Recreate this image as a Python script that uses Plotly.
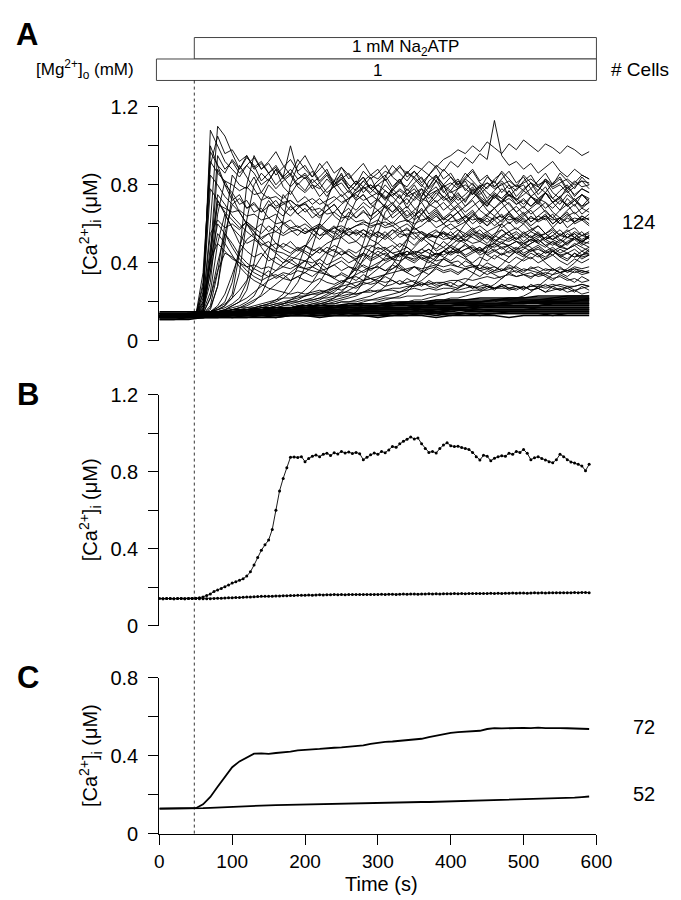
import plotly.graph_objects as go

# ---------------- time bases (s) ----------------
T_A = list(range(0, 600, 10))            # panel A responders, 0..590 s
T_NR = list(range(0, 600, 20)) + [590]   # panel A non-responders
T_B = list(range(0, 595, 5))             # panel B, 0..590 s
T_C = list(range(0, 600, 10))            # panel C, 0..590 s

# ---------------- panel A : responding cells ([Ca2+]i, units of 0.01 uM) ----------------
a01 = [13,13,13,13,13,14,20,108,100,92, 88,84,90,86,80,83,78,82,85,79, 76,80,74,78,82,77,73,76,79,75, 72,77,74,70,75,78,73,71,76,72, 74,70,73,77,72,69,74,71,75,73, 70,74,72,76,71,73,69,72,75,71]
a02 = [13,13,14,13,13,13,18,60,110,105, 96,88,94,90,82,86,80,84,79,83, 85,80,78,83,79,81,76,80,84,78, 80,83,77,81,79,84,80,76,82,79, 81,78,83,80,77,81,79,82,78,80, 77,81,79,83,78,80,76,79,82,78]
a03 = [13,14,13,13,13,13,25,100,90,80, 76,70,72,66,68,63,65,60,62,58, 60,57,59,55,58,56,54,57,55,53, 56,54,57,53,55,52,56,54,53,55, 52,54,51,55,53,50,54,52,51,53, 50,52,54,51,49,52,50,53,51,50]
a04 = [13,13,13,14,13,13,16,45,95,88, 92,86,90,94,88,91,85,89,93,87, 90,84,88,92,86,89,83,87,91,85, 88,82,86,90,84,87,81,85,89,83, 86,80,84,88,82,85,79,83,87,81, 84,78,82,86,80,83,77,81,85,83]
a05 = [13,13,13,13,14,13,15,40,88,80, 72,75,68,70,66,72,67,64,69,65, 68,63,66,70,64,61,66,63,67,62, 65,69,63,66,61,64,68,62,65,60, 63,66,61,65,62,59,64,61,66,62, 60,64,61,63,58,62,65,60,62,59]
a06 = [13,13,13,13,13,14,16,30,65,82, 74,66,60,56,52,55,50,48,51,47, 49,46,48,45,47,44,46,43,45,42, 44,41,43,45,42,40,43,41,39,42, 40,38,41,39,37,40,38,36,39,37, 35,38,36,34,37,35,33,36,34,35]
a07 = [14,13,13,13,13,13,22,78,72,66, 62,58,61,57,60,56,59,55,58,57, 55,58,54,57,56,53,56,55,57,54, 56,53,57,55,54,58,55,53,56,55, 54,57,53,56,55,52,55,57,54,56, 53,56,54,55,52,55,53,56,54,55]
a08 = [13,13,13,13,13,13,15,35,72,65, 58,54,50,52,49,51,47,50,48,46, 49,47,45,48,46,44,47,45,48,46, 44,47,45,43,46,44,47,45,43,46, 44,46,43,45,47,44,42,45,43,46, 44,42,45,43,46,44,42,45,43,44]
a09 = [13,13,14,13,13,13,15,25,50,65, 58,50,46,43,45,41,43,40,42,39, 41,38,40,37,39,41,38,36,39,37, 38,36,39,37,35,38,36,34,37,35, 36,34,37,35,33,36,34,32,35,33, 34,32,35,33,31,34,32,30,33,31]
a10 = [13,13,13,13,13,13,17,40,60,55, 48,42,38,35,33,36,32,34,31,33, 35,38,42,46,49,47,44,41,38,36, 39,43,47,50,48,45,42,40,43,46, 49,52,50,47,44,46,49,51,48,45, 47,50,52,49,46,48,51,53,50,48]
a11 = [13,13,13,13,13,13,14,22,40,55, 50,44,40,37,35,33,34,32,31,33, 31,30,32,30,29,31,30,28,30,29, 30,28,29,31,29,28,30,28,27,29, 28,27,29,28,26,28,27,29,27,26, 28,26,27,29,27,26,28,26,27,28]
a12 = [13,13,13,13,13,13,14,18,35,60, 85,80,78,84,76,82,88,79,75,81, 77,83,79,74,80,86,78,73,79,84, 76,72,78,83,75,80,74,79,85,77, 72,78,82,75,79,73,77,81,74,78, 80,74,77,82,76,73,79,75,78,76]
a13 = [13,13,13,13,13,13,30,97,90,86, 93,88,95,89,92,86,90,84,88,83, 86,81,84,88,80,83,78,82,79,76, 80,77,74,78,75,72,76,73,77,74, 71,75,72,76,73,70,74,71,73,70, 72,69,73,71,68,72,70,73,69,71]
a14 = [13,13,13,13,13,13,14,17,28,50, 75,90,84,78,72,74,69,71,67,70, 66,69,64,67,70,65,68,63,66,64, 67,62,65,68,63,66,61,64,67,62, 65,60,63,66,61,64,62,65,60,63, 66,61,64,62,65,60,63,61,64,62]
a15 = [13,13,13,13,13,13,14,15,16,18, 24,45,80,95,88,92,97,90,85,93, 88,84,91,86,82,89,85,80,87,83, 86,90,84,81,87,83,79,85,82,88, 84,80,86,82,78,84,81,87,83,79, 85,81,77,83,80,86,82,78,84,80]
a16 = [13,13,13,13,13,13,14,15,16,17, 19,22,30,50,72,80,76,73,77,71, 74,70,73,69,72,75,70,67,71,68, 72,69,66,70,73,68,65,69,72,67, 70,66,69,72,67,64,68,71,66,69, 65,68,71,66,63,67,70,65,68,66]
a17 = [13,13,13,13,13,14,14,15,15,16, 17,18,20,23,30,45,62,75,70,65, 62,58,60,56,59,55,58,54,57,55, 53,56,52,55,58,54,51,55,53,56, 52,55,51,54,57,53,50,54,52,55, 51,54,50,53,56,52,49,53,51,54]
a18 = [13,13,13,13,13,13,14,14,15,15, 16,17,18,20,24,32,45,62,80,90, 95,88,82,86,80,84,78,82,76,80, 77,73,78,74,70,76,72,75,71,74, 70,74,69,73,77,71,68,72,75,70, 73,69,72,68,71,74,69,72,68,71]
a19 = [13,13,13,13,13,13,14,14,14,15, 15,16,16,17,18,19,21,24,30,38, 48,56,60,57,55,58,54,56,53,57, 54,52,55,58,53,56,52,55,57,53, 56,52,54,57,53,55,51,54,56,52, 55,53,56,52,54,57,53,55,52,54]
a20 = [13,13,13,13,13,13,13,14,14,14, 15,15,16,17,18,19,20,22,25,30, 38,48,60,72,82,85,80,77,82,78, 75,80,76,73,78,74,71,76,79,73, 77,72,75,79,74,71,76,73,77,72, 75,78,73,76,71,74,77,72,75,73]
a21 = [13,13,13,13,13,13,14,15,17,19, 22,26,31,37,43,48,50,47,45,48, 46,44,47,45,43,46,44,42,45,43, 46,44,42,45,43,41,44,42,45,43, 41,44,42,40,43,41,44,42,40,43, 41,43,40,42,44,41,39,42,40,42]
a22 = [13,13,13,13,13,13,13,14,14,14, 14,15,15,16,16,17,18,19,20,21, 23,26,30,36,44,54,64,72,75,70, 67,70,66,69,64,67,71,65,68,63, 66,69,64,67,62,65,68,63,66,61, 64,67,62,65,60,63,66,61,64,62]
a23 = [13,13,13,13,13,13,13,13,14,14, 14,14,15,15,15,16,16,17,17,18, 19,20,21,23,25,28,33,40,50,62, 74,84,90,86,82,87,83,79,84,80, 77,82,78,75,80,76,73,78,75,72, 77,74,71,76,73,70,75,72,69,73]
a24 = [13,13,13,13,13,13,13,14,14,14, 14,15,15,16,16,17,18,19,21,23, 26,30,36,44,54,64,72,78,82,85, 83,87,85,89,86,90,88,92,89,93, 95,98,96,100,97,102,99,96,101,98, 103,100,97,101,99,96,100,98,95,97]
a25 = [13,13,13,13,13,13,14,14,14,14, 15,15,15,16,16,17,17,18,18,19, 20,21,22,24,26,29,33,38,45,53, 62,70,77,82,86,84,88,85,90,87, 92,89,94,91,96,93,113,95,90,92, 88,91,86,89,92,87,84,88,85,83]
a26 = [13,13,13,13,13,13,13,13,13,14, 14,14,14,15,15,15,16,16,16,17, 17,18,18,19,20,21,22,23,25,27, 30,34,39,45,52,59,65,70,68,71, 67,70,66,69,72,67,64,68,71,66, 69,65,68,71,66,63,67,70,65,68]
a27 = [13,13,13,13,13,13,13,13,14,14, 14,14,14,14,15,15,15,15,16,16, 16,17,17,17,18,18,19,19,20,21, 22,23,24,25,27,29,31,34,38,42, 46,50,53,55,52,54,51,53,56,52, 54,51,53,55,52,50,53,55,51,53]
a28 = [13,13,13,13,13,13,14,14,14,15, 16,17,19,21,23,26,29,32,35,38, 41,44,47,50,52,55,57,59,61,60, 62,59,61,58,60,57,59,62,58,60, 57,59,61,57,59,56,58,60,56,58, 55,57,59,55,57,54,56,58,54,56]
a29 = [13,13,13,13,13,13,13,14,14,14, 14,15,15,16,16,17,17,18,19,20, 21,22,24,26,28,30,32,34,36,38, 40,42,43,45,44,46,45,47,44,46, 45,47,44,46,48,45,47,44,46,48, 45,47,49,46,48,45,47,49,46,48]
a30 = [13,13,13,13,13,13,13,13,13,13, 14,14,14,14,14,15,15,15,15,15, 16,16,16,16,17,17,17,17,18,18, 18,19,19,20,20,21,21,22,23,24, 25,27,30,34,40,47,54,60,64,62, 65,61,64,67,63,60,64,66,62,65]
a31 = [13,13,13,13,13,13,13,13,13,13, 13,14,14,14,14,14,14,15,15,15, 15,15,16,16,16,16,17,17,17,17, 18,18,18,19,19,19,20,20,21,21, 22,22,23,24,25,27,29,32,35,39, 42,45,43,46,44,47,45,43,46,44]
a32 = [13,13,13,13,13,13,14,14,15,15, 16,16,17,17,18,18,19,19,20,20, 21,21,22,22,23,23,24,24,25,25, 26,26,27,27,28,28,29,29,30,30, 31,31,32,31,32,33,32,33,34,33, 34,33,34,35,34,35,36,35,36,35]
a33 = [13,13,13,13,13,13,13,14,14,14, 15,15,15,16,16,16,17,17,17,18, 18,18,19,19,19,20,20,20,21,21, 21,22,22,22,23,23,23,24,24,24, 25,25,25,26,26,26,27,27,27,28, 27,28,28,27,28,29,28,28,29,28]
a34 = [13,13,13,13,13,13,14,14,15,16, 18,20,22,25,28,31,33,35,34,36, 35,33,36,34,32,35,33,31,34,32, 30,33,31,29,32,30,28,31,29,30, 28,31,29,27,30,28,26,29,27,28, 26,29,27,25,28,26,27,25,28,26]
a35 = [13,13,13,13,13,13,13,14,14,14, 14,15,15,15,16,16,16,17,17,18, 18,19,20,21,22,24,26,28,31,34, 37,40,42,41,43,42,44,43,45,44, 46,45,47,48,46,49,48,50,49,51, 50,52,51,53,52,54,53,52,54,53]
a36 = [13,13,13,13,13,13,14,16,28,55, 70,66,60,54,48,43,40,38,41,44, 48,53,58,62,66,70,73,76,78,80, 77,74,70,66,62,58,55,52,50,48, 51,55,60,64,68,72,75,73,70,66, 62,58,55,52,50,48,47,49,51,53]
a37 = [13,13,13,13,13,13,20,55,62,58, 60,57,61,58,55,59,56,60,57,54, 58,55,52,56,53,57,54,51,55,52, 50,54,51,48,52,49,53,50,47,51, 48,46,50,47,45,49,46,44,48,45, 43,47,44,42,46,43,41,45,42,44]
a38 = [13,13,13,13,13,13,14,15,16,18, 22,35,62,80,86,82,88,84,100,86, 83,87,81,85,79,83,86,80,84,78, 82,85,79,83,77,81,84,78,82,76, 80,83,77,81,75,79,82,76,80,74, 78,81,75,79,73,77,80,74,78,76]
a39 = [13,13,13,13,13,13,16,35,55,50, 44,38,34,31,29,27,26,25,24,25, 24,25,26,25,27,26,28,27,29,30, 32,34,37,40,44,48,52,55,53,56, 54,52,55,53,51,54,52,50,53,51, 49,52,50,48,51,49,47,50,48,46]
a40 = [13,13,13,13,13,13,18,48,70,68, 66,67,64,65,62,63,60,61,58,59, 56,57,54,55,52,53,50,51,48,49, 47,48,45,46,44,45,42,43,41,42, 40,41,38,39,37,38,36,37,35,36, 34,35,33,34,32,33,31,32,30,31]
a41 = [13,13,13,13,13,13,24,85,80,74, 70,73,68,71,66,69,72,67,64,68, 71,66,63,67,70,65,62,66,69,64, 67,63,60,64,67,62,65,61,64,60, 63,66,61,64,60,63,59,62,65,60, 63,59,62,64,60,63,58,61,63,60]
a42 = [13,13,13,13,13,13,15,42,75,70, 64,60,56,53,50,48,46,45,43,42, 41,40,42,39,41,43,40,42,44,41, 43,45,42,44,46,43,45,47,44,46, 48,45,47,49,46,48,50,47,49,51, 48,50,52,49,51,48,50,52,49,51]
a43 = [13,13,13,13,13,13,14,15,17,20, 30,48,60,56,52,48,45,42,40,38, 37,36,35,34,33,34,32,33,31,32, 31,30,31,29,30,31,29,30,28,29, 30,28,29,27,28,29,27,28,26,27, 28,26,27,25,26,27,25,26,24,25]
a44 = [13,13,13,13,13,13,13,14,14,14, 15,15,16,16,17,18,19,20,21,22, 23,24,25,26,27,28,29,30,31,32, 33,34,35,36,37,38,37,38,39,38, 39,38,37,38,39,37,38,36,37,38, 36,37,38,36,37,35,36,37,35,36]
a45 = [13,13,13,13,13,13,13,14,14,14, 14,14,15,15,15,16,16,16,17,17, 18,18,19,20,22,25,29,35,42,48, 50,47,49,46,48,45,47,50,46,48, 45,47,49,46,48,44,46,48,45,47, 44,46,48,45,47,43,45,47,44,46]
a46 = [13,13,13,13,13,13,28,90,105,96, 98,92,95,88,91,86,89,83,86,80, 84,78,81,76,79,74,77,72,75,70, 73,68,71,66,69,64,67,63,66,62, 65,61,64,60,63,59,62,58,61,57, 60,56,59,55,58,54,57,53,56,52]
a47 = [13,13,13,13,13,13,13,13,14,14, 14,14,15,15,15,16,16,16,17,17, 17,18,18,19,19,20,20,21,22,23, 25,28,33,40,50,62,74,82,85,80, 84,79,83,87,81,78,83,86,80,77, 82,85,79,76,81,84,78,82,79,80]
a48 = [13,13,13,13,13,13,14,22,36,45, 43,40,36,33,31,33,36,40,44,47, 45,42,38,35,32,30,33,37,41,45, 48,46,42,38,35,33,35,38,42,46, 49,47,43,39,36,34,36,39,43,47, 50,48,44,40,37,35,37,40,44,47]
a49 = [13,13,13,13,13,13,14,14,15,16, 18,20,26,40,58,70,68,70,72,69, 71,73,70,72,74,71,73,75,72,74, 76,73,75,77,74,76,78,75,77,79, 76,78,80,77,79,81,78,80,82,79, 81,83,80,82,79,81,83,80,82,81]
a50 = [13,13,13,13,13,13,13,13,13,13, 13,13,14,14,14,14,14,14,14,15, 15,15,15,15,15,16,16,16,16,16, 16,17,17,17,17,17,18,18,18,18, 18,19,19,19,20,20,20,21,21,22, 23,25,28,31,34,37,36,38,37,38]
a51 = [13,13,13,13,13,13,19,42,50,46, 42,40,38,39,37,38,36,38,37,39, 37,38,36,37,39,36,38,37,35,37, 38,36,37,39,36,38,35,37,38,36, 37,35,37,38,36,37,35,36,38,35, 37,36,35,37,36,38,35,37,36,35]
a52 = [13,13,13,13,13,13,14,15,18,24, 34,45,52,55,53,55,56,54,56,57, 55,57,58,56,58,59,57,59,60,58, 60,61,59,61,62,60,62,63,61,63, 61,62,64,62,63,61,63,64,62,63, 61,63,62,64,62,63,61,63,62,63]
a53 = [13,13,13,13,13,13,14,14,15,15, 16,17,17,18,19,20,21,22,22,23, 23,24,24,25,24,25,25,24,25,26, 25,26,26,25,26,27,26,27,26,27, 27,26,27,28,27,28,27,28,29,28, 27,28,29,28,29,28,27,28,29,28]
a54 = [13,13,13,13,13,13,13,14,14,14, 14,15,15,15,16,16,16,17,17,18, 18,19,19,20,21,22,23,25,30,40, 55,66,70,75,68,73,78,70,74,80, 72,76,71,78,73,69,75,71,77,72, 68,74,70,76,71,67,73,69,75,72]
a55 = [13,13,13,13,13,13,35,92,86,82, 80,77,79,75,76,73,74,71,72,69, 70,67,68,65,66,63,64,61,62,59, 60,58,59,56,57,55,56,53,54,52, 53,51,52,50,51,49,50,48,49,47, 48,46,47,45,46,44,45,43,44,45]
a56 = [13,13,13,13,13,13,13,13,13,14, 14,14,14,14,15,15,15,15,16,16, 16,16,17,17,17,18,18,18,19,19, 20,21,22,23,25,29,35,43,52,58, 60,57,55,58,54,56,53,57,54,52, 56,53,55,52,54,51,55,53,50,54]

# ---------------- panel A : non-responding cells (units of 0.01 uM) ----------------
n01 = [13,13,12,12,13,12,13,13,12,13,13,12,13,13,13,12,13,13,13,12,13,13,13,13,12,13,13,13,13,13,13]
n02 = [13,13,13,13,13,13,13,13,13,14,13,13,14,13,14,14,13,14,14,14,13,14,14,14,14,14,14,13,14,14,14]
n03 = [12,12,12,12,13,13,13,13,13,13,13,14,14,14,14,14,14,14,14,15,14,15,15,15,15,15,15,15,15,15,15]
n04 = [13,13,13,14,14,14,14,14,14,15,15,14,15,15,15,15,15,15,16,15,16,16,16,16,16,16,16,16,16,16,16]
n05 = [13,13,13,13,14,14,14,15,15,15,15,15,15,16,16,16,16,16,16,16,17,16,17,17,17,17,17,17,17,17,17]
n06 = [13,13,14,14,14,14,15,15,15,15,15,16,16,16,16,17,17,17,17,17,17,17,18,18,18,18,18,18,18,18,18]
n07 = [13,13,13,14,14,14,15,15,15,16,16,16,16,17,17,17,17,17,18,18,18,18,18,18,19,19,19,19,19,19,19]
n08 = [13,13,13,14,14,15,15,15,16,16,16,17,17,17,17,18,18,18,18,19,19,19,19,19,19,20,20,20,20,20,20]
n09 = [13,13,14,14,15,15,15,16,16,16,17,17,17,18,18,18,18,19,19,19,19,20,20,20,20,20,21,21,21,21,21]
n10 = [13,13,13,14,14,15,15,16,16,16,17,17,17,18,18,18,19,19,19,20,20,20,20,21,21,21,21,22,22,22,22]
n11 = [13,13,14,14,15,15,16,16,17,17,17,18,18,18,19,19,19,20,20,20,21,21,21,21,22,22,22,22,23,23,23]
n12 = [12,12,12,12,12,12,12,13,13,13,13,13,13,13,13,13,13,13,14,13,14,14,13,14,14,14,14,14,14,14,14]
n13 = [14,14,14,14,14,14,14,14,14,15,15,15,15,15,15,15,15,15,15,15,15,16,15,16,16,16,16,16,16,16,16]
n14 = [12,12,12,13,13,13,13,13,14,14,14,14,14,15,15,15,15,15,15,16,16,16,16,16,16,16,17,17,17,17,17]
n15 = [14,14,14,14,14,15,15,15,15,15,16,16,16,16,16,16,17,17,17,17,17,17,17,18,18,18,18,18,18,18,18]
n16 = [12,12,12,13,13,13,14,14,14,14,15,15,15,15,16,16,16,16,17,17,17,17,18,18,18,18,18,19,19,19,19]
n17 = [14,14,14,14,15,15,15,15,16,16,16,16,17,17,17,17,18,18,18,18,18,19,19,19,19,19,20,20,20,20,20]
n18 = [12,12,13,13,13,14,14,14,15,15,15,16,16,16,17,17,17,17,18,18,18,19,19,19,19,20,20,20,20,21,21]
n19 = [14,14,14,15,15,15,16,16,16,17,17,17,18,18,18,18,19,19,19,20,20,20,20,21,21,21,21,21,22,22,22]
n20 = [13,13,13,13,13,14,14,14,14,14,14,15,15,15,15,15,15,15,15,15,16,16,16,16,16,16,16,16,16,16,16]
n21 = [11,11,12,12,12,13,13,14,14,15,15,15,16,16,16,17,17,17,18,18,18,19,19,19,20,20,20,21,21,21,22]
n22 = [12,12,12,12,13,13,13,14,14,14,15,15,15,15,16,16,16,16,17,17,17,17,18,18,18,18,18,19,19,19,19]
n23 = [14,14,14,15,15,16,16,17,17,17,18,18,18,19,19,19,20,20,20,21,21,21,22,22,22,22,23,23,23,23,23]
n24 = [11,11,11,12,12,12,12,12,12,13,13,13,13,13,13,13,14,14,14,14,14,14,14,14,15,15,15,15,15,15,15]
n25 = [12,12,13,13,13,14,14,14,15,15,15,16,16,16,16,17,17,17,18,18,18,18,19,19,19,20,20,20,20,21,21]
n26 = [15,15,15,15,15,15,15,15,15,16,16,16,16,16,16,16,16,16,16,16,17,17,17,17,17,17,17,17,17,17,17]

A_RESP = [a01, a02, a03, a04, a05, a06, a07, a08, a09, a10, a11, a12, a13, a14, a15, a16, a17, a18, a19, a20,
          a21, a22, a23, a24, a25, a26, a27, a28, a29, a30, a31, a32, a33, a34, a35, a36, a37, a38, a39, a40,
          a41, a42, a43, a44, a45, a46, a47, a48, a49, a50, a51, a52, a53, a54, a55, a56]
A_NONRESP = [n01, n02, n03, n04, n05, n06, n07, n08, n09, n10, n11, n12, n13, n14, n15, n16, n17, n18, n19, n20,
             n21, n22, n23, n24, n25, n26]

# ---------------- panel B : single cells (units of 0.001 uM) ----------------
b_resp = [142,141,142,142,141,142,142,141,142,142,
          143,145,150,157,165,178,186,193,203,212,
          222,229,236,244,258,280,315,355,392,420,
          445,500,600,700,765,820,875,876,874,878,
          852,868,880,886,878,890,896,884,898,892,
          905,897,902,894,900,893,862,875,888,897,
          890,905,898,912,930,927,945,958,968,980,
          970,975,945,920,900,905,897,920,938,950,
          935,930,932,925,920,915,900,878,860,885,
          880,856,870,878,882,880,895,890,905,900,
          915,895,862,872,878,868,860,852,846,862,
          890,878,862,850,845,838,830,805,838]
b_nonresp = [142,141,142,142,141,142,142,141,142,142,
             142,141,140,140,141,142,143,143,144,145,
             146,147,147,148,149,150,151,152,153,153,
             154,154,155,155,156,156,157,157,158,158,
             159,160,159,160,161,160,161,161,162,161,
             162,161,162,162,163,162,163,162,163,163,
             163,164,163,164,164,163,164,165,164,165,
             165,164,165,165,166,165,166,165,166,166,
             166,167,166,167,166,167,168,167,168,167,
             168,169,168,169,168,169,169,170,169,170,
             170,169,170,171,170,171,170,171,172,171,
             172,171,172,172,173,172,173,173,172]

# ---------------- panel C : means (units of 0.001 uM) ----------------
c_resp = [128,128,129,129,129,130,150,188,240,290,
          340,370,390,410,411,409,413,416,420,427,
          431,432,434,438,440,442,445,448,452,460,
          466,470,472,476,479,482,486,495,502,510,
          516,520,522,525,527,536,540,539,541,540,
          542,541,543,541,542,541,540,539,538,536]
c_nonresp = [128,128,129,129,129,129,130,132,134,136,
             138,140,141,143,144,145,146,147,148,149,
             150,151,152,152,153,154,155,155,156,157,
             157,158,159,159,160,161,162,162,163,164,
             165,166,167,168,168,169,170,171,172,173,
             174,175,176,177,178,180,182,184,187,190]

N_CELLS = ["124", "72", "52"]
Y_TICKS_AB = [0, 0.4, 0.8, 1.2]
Y_TICKS_C = [0, 0.4, 0.8]
X_TICKS = [0, 100, 200, 300, 400, 500, 600]
ATP_START = 48   # s

# ---------------- layout helpers ----------------
W, H = 681, 900
FONT = "Liberation Sans, Arial, Helvetica, sans-serif"
def px(xp):
    return xp / W
def py(yp):
    return 1 - yp / H

X_L, X_R = 151, 602           # pixel positions of t=0 and t=600
def tx(t):
    return px(X_L + (X_R - X_L) * t / 600.0)

fig = go.Figure()

for v in A_RESP:
    fig.add_trace(go.Scatter(x=T_A[:len(v)], y=[u / 100 for u in v], mode="lines",
                             line=dict(color="black", width=0.9), xaxis="x", yaxis="y",
                             hoverinfo="skip", showlegend=False))
for v in A_NONRESP:
    fig.add_trace(go.Scatter(x=T_NR[:len(v)], y=[u / 100 for u in v], mode="lines",
                             line=dict(color="black", width=1.5), xaxis="x", yaxis="y",
                             hoverinfo="skip", showlegend=False))

for v in (b_resp, b_nonresp):
    fig.add_trace(go.Scatter(x=T_B[:len(v)], y=[u / 1000 for u in v], mode="lines+markers",
                             line=dict(color="black", width=0.9),
                             marker=dict(color="black", size=3),
                             xaxis="x2", yaxis="y2", hoverinfo="skip", showlegend=False))

for v in (c_resp, c_nonresp):
    fig.add_trace(go.Scatter(x=T_C[:len(v)], y=[u / 1000 for u in v], mode="lines",
                             line=dict(color="black", width=1.8),
                             xaxis="x3", yaxis="y3", hoverinfo="skip", showlegend=False))

XD = [px(X_L), px(X_R)]
TICKFONT = dict(family=FONT, size=20, color="black")
yax = dict(showline=True, linecolor="black", linewidth=1.3, ticks="outside", ticklen=10,
           tickwidth=1.3, tickcolor="black", showgrid=False, zeroline=False,
           tickfont=TICKFONT, ticklabelstandoff=6, fixedrange=True,
           minor=dict(dtick=0.2, tick0=0, ticks="outside", ticklen=10, tickwidth=1.3,
                      tickcolor="black", showgrid=False))

fig.update_layout(
    width=W, height=H, margin=dict(l=0, r=0, t=0, b=0),
    paper_bgcolor="white", plot_bgcolor="white", showlegend=False,
    xaxis=dict(domain=XD, range=[0, 600], visible=False, anchor="y"),
    yaxis=dict(domain=[py(330), py(90)], range=[0, 1.2], anchor="x",
               tickmode="array", tickvals=Y_TICKS_AB, **yax),
    xaxis2=dict(domain=XD, range=[0, 600], visible=False, anchor="y2"),
    yaxis2=dict(domain=[py(622), py(385)], range=[0, 1.2], anchor="x2",
                tickmode="array", tickvals=Y_TICKS_AB, **yax),
    xaxis3=dict(domain=XD, range=[0, 600], anchor="y3", showline=True, linecolor="black",
                linewidth=1.3, ticks="outside", ticklen=10, tickwidth=1.3, tickcolor="black",
                tickmode="array", tickvals=X_TICKS, showgrid=False, zeroline=False,
                ticklabelstandoff=0, tickfont=dict(family=FONT, size=19, color="black")),
    yaxis3=dict(domain=[py(835), py(675)], range=[0, 0.8], anchor="x3",
                tickmode="array", tickvals=Y_TICKS_C, **yax),
)

shapes = []
# solution bars
shapes.append(dict(type="rect", xref="paper", yref="paper", x0=tx(ATP_START), x1=tx(600),
                   y0=py(41), y1=py(19), line=dict(color="#444", width=1), fillcolor="white"))
shapes.append(dict(type="rect", xref="paper", yref="paper", x0=px(148), x1=tx(600),
                   y0=py(63), y1=py(41), line=dict(color="#444", width=1), fillcolor="white"))
# dashed line marking ATP application
shapes.append(dict(type="line", xref="paper", yref="paper", x0=tx(ATP_START), x1=tx(ATP_START),
                   y0=py(835), y1=py(63), line=dict(color="black", width=0.8, dash="3px,3px")))
fig.update_layout(shapes=shapes)

def ann(text, x, y, size=20, bold=False, xanchor="center", angle=0):
    return dict(text=("<b>%s</b>" % text) if bold else text, x=x, y=y, xref="paper", yref="paper",
                showarrow=False, xanchor=xanchor, yanchor="middle", textangle=angle,
                font=dict(family=FONT, size=size, color="black"))

ylab = "[Ca<sup>2+</sup>]<sub>i</sub> (μM)"
annotations = [
    ann("A", px(14), py(16), size=31, bold=True),
    ann("B", px(15), py(385), size=31, bold=True),
    ann("C", px(15), py(675), size=31, bold=True),
    ann("1 mM Na<sub>2</sub>ATP", px(405), py(30), size=17),
    ann("1", px(376), py(53), size=17),
    ann("[Mg<sup>2+</sup>]<sub>o</sub> (mM)", px(74), py(52), size=17),
    ann("# Cells", px(679), py(52), size=19, xanchor="right"),
    ann(ylab, px(80), py(210), angle=-90),
    ann(ylab, px(80), py(503), angle=-90),
    ann(ylab, px(80), py(755), angle=-90),
    ann(N_CELLS[0], px(665), py(208), xanchor="right"),
    ann(N_CELLS[1], px(664), py(726), xanchor="right"),
    ann(N_CELLS[2], px(664), py(794), xanchor="right"),
    ann("Time (s)", px(380), py(887), size=20),
]
fig.update_layout(annotations=annotations)

fig.write_html("out.html")
